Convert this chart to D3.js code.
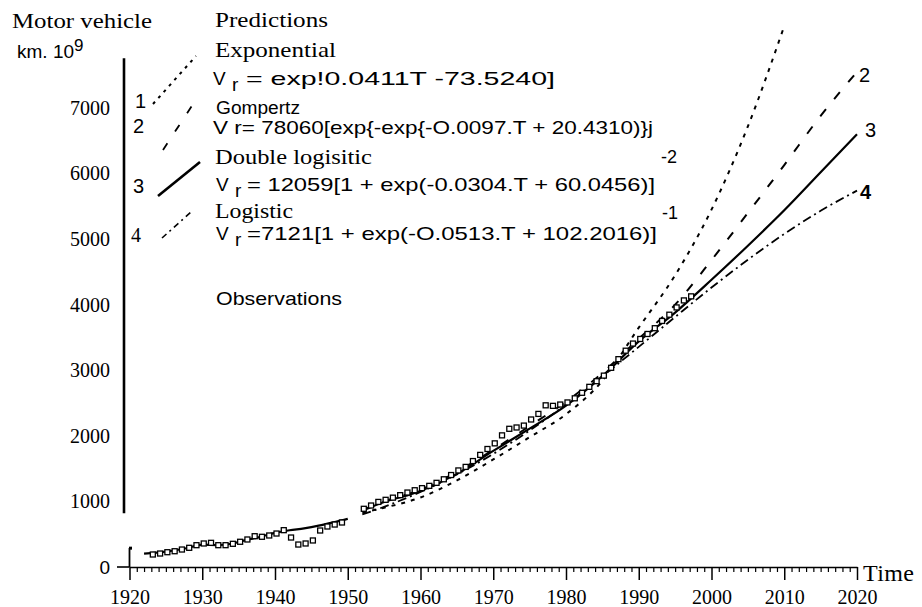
<!DOCTYPE html>
<html>
<head>
<meta charset="utf-8">
<script src="https://cdn.jsdelivr.net/npm/d3@7/dist/d3.min.js"></script>
<style>
  body { margin: 0; background: #fff; }
  svg { display: block; }
  .serif { font-family: "Liberation Serif", "Times New Roman", serif; }
  .sans { font-family: "Liberation Sans", Arial, sans-serif; }
</style>
</head>
<body>
<svg id="chart" width="922" height="607"></svg>
<script>
// Observed traffic, 10^9 vehicle km, before and after the 1950-51 gap
const obsYearsA = [1923,1924,1925,1926,1927,1928,1929,1930,1931,1932,1933,1934,1935,1936,
  1937,1938,1939,1940,1941,1942,1943,1944,1945,1946,1947,1948,1949];
const obsValuesA = [183,198,218,233,259,285,325,351,361,325,325,346,377,412,
  462,453,473,503,554,442,335,351,397,549,610,640,671];
const obsYearsB = [1952,1953,1954,1955,1956,1957,1958,1959,1960,1961,1962,1963,1964,1965,
  1966,1967,1968,1969,1970,1971,1972,1973,1974,1975,1976,1977,1978,1979,1980,1981,
  1982,1983,1984,1985,1986,1987,1988,1989,1990,1991,1992,1993,1994,1995,1996,1997];
const obsValuesB = [880,930,985,1017,1050,1088,1128,1163,1195,1230,1276,1330,1395,1465,
  1519,1608,1702,1792,1878,2000,2100,2120,2149,2242,2327,2458,2450,2470,2502,2565,
  2649,2740,2826,2911,3030,3162,3291,3400,3470,3546,3634,3745,3840,3951,4058,4120];

// Fitted trace through the pre-war years
const earlyYears = [1922,1925,1928,1930,1932,1934,1936,1938,1940,1942,1944,1946,1948,1950];
const earlyValues = [205,235,290,340,335,355,410,460,520,560,590,630,680,735];

// Model predictions
const expYears = [1952,1955,1960,1965,1970,1975,1980,1985,1990,1995,2000,2005,2010];
const exponentialValues = [830,905,1060,1320,1640,1980,2330,2840,3650,4450,5450,6720,8250];
const fitYears = [1952,1955,1960,1965,1970,1975,1980,1985,1990,1995,2000,2005,2010,2015,2020];
const gompertzValues = [870,1000,1180,1450,1790,2150,2520,2960,3480,4000,4680,5400,6130,6880,7550];
const doubleLogisticValues = [860,990,1160,1420,1770,2110,2460,2910,3440,3880,4380,4900,5440,6020,6600];
const logisticValues = [802,918,1144,1412,1725,2082,2478,2908,3357,3813,4262,4686,5079,5432,5740];

// Axis ticks
const decadeTicks = [1920,1930,1940,1950,1960,1970,1980,1990,2000,2010,2020];
const yearTicks = d3.range(1920, 2021).filter(d => d % 10 !== 0);
const yTicks = [0,1000,2000,3000,4000,5000,6000,7000];

const svg = d3.select('#chart');
const x = d3.scaleLinear().domain([1920, 2020]).range([129.5, 857]);
const y = d3.scaleLinear().domain([0, 7000]).range([567, 108]);

// ---- x axis ----
const gx = svg.append('g').attr('transform', `translate(0,${y(0)})`);
gx.call(d3.axisBottom(x).tickValues(decadeTicks).tickSize(13).tickSizeOuter(0)
  .tickPadding(10).tickFormat(d3.format('d')));
gx.select('.domain').attr('stroke-width', 1.6);
gx.selectAll('.tick line').attr('stroke-width', 1.5);
gx.selectAll('.tick text').attr('class', 'serif').attr('font-size', 20).attr('fill', '#000');

const gxm = svg.append('g').attr('transform', `translate(0,${y(0)})`);
gxm.call(d3.axisBottom(x).tickValues(yearTicks).tickSize(5).tickFormat(''));
gxm.select('.domain').remove();
gxm.selectAll('.tick line').attr('stroke-width', 1.2);

svg.append('text').attr('class', 'serif').attr('x', x(2020) + 6).attr('y', y(0) + 14)
  .attr('font-size', 24).attr('letter-spacing', 0.4).text('Time');

// ---- y axis ----
const gy = svg.append('g').attr('transform', 'translate(124,0)');
gy.call(d3.axisLeft(y).tickValues(yTicks).tickSize(0).tickPadding(14).tickFormat(d3.format('d')));
gy.select('.domain').remove();
gy.selectAll('.tick text').attr('class', 'serif').attr('font-size', 20).attr('fill', '#000');
gy.selectAll('.tick').filter(d => d === 0).select('text').attr('class', 'sans').attr('font-size', 19);
gy.append('line').attr('x1', 0).attr('x2', 0).attr('y1', y(7760)).attr('y2', y(820))
  .attr('stroke', '#000').attr('stroke-width', 2.6);
// broken foot of the axis near zero
svg.append('line').attr('x1', x(1920)).attr('x2', x(1920)).attr('y1', y(0)).attr('y2', y(290))
  .attr('stroke', '#000').attr('stroke-width', 1.8);
svg.append('rect').attr('x', x(1920) - 0.5).attr('y', y(310)).attr('width', 3).attr('height', 3).attr('fill', '#000');
svg.append('line').attr('x1', 117).attr('x2', x(1920)).attr('y1', y(0)).attr('y2', y(0))
  .attr('stroke', '#000').attr('stroke-width', 1.6);

// ---- titles ----
svg.append('text').attr('class', 'serif').attr('x', 12).attr('y', 28).attr('font-size', 21)
  .attr('textLength', 140).attr('lengthAdjust', 'spacingAndGlyphs').text('Motor vehicle');
const km = svg.append('text').attr('class', 'sans').attr('x', 17).attr('y', 58).attr('font-size', 19);
km.append('tspan').text('km.  10');
km.append('tspan').attr('dy', -7).attr('font-size', 17).text('9');

// ---- curves ----
const line = d3.line().x(d => x(d[0])).y(d => y(d[1])).curve(d3.curveMonotoneX);
const zip = (a, b) => a.map((v, i) => [v, b[i]]);

const curves = svg.append('g').attr('fill', 'none').attr('stroke', '#000');
curves.append('path').attr('d', line(zip(earlyYears, earlyValues))).attr('stroke-width', 2.2);
curves.append('path').attr('d', line(zip(fitYears, logisticValues)))
  .attr('stroke-width', 1.8).attr('stroke-dasharray', '9,4,2,4');
curves.append('path').attr('d', line(zip(fitYears, gompertzValues)))
  .attr('stroke-width', 2).attr('stroke-dasharray', '9,13');
curves.append('path').attr('d', line(zip(fitYears, doubleLogisticValues))).attr('stroke-width', 2.2);
curves.append('path').attr('d', line(zip(expYears, exponentialValues)))
  .attr('stroke-width', 2).attr('stroke-dasharray', '4,6');

// ---- observations ----
const obs = zip(obsYearsA, obsValuesA).concat(zip(obsYearsB, obsValuesB));
svg.append('g').selectAll('rect').data(obs).join('rect')
  .attr('x', d => x(d[0]) - 1).attr('y', d => y(d[1]) - 3)
  .attr('width', 5).attr('height', 5)
  .attr('fill', '#fff').attr('stroke', '#000').attr('stroke-width', 1.3);

// ---- curve end labels ----
const endLabel = (yr, v, txt, dx, dy, weight) => svg.append('text').attr('class', 'sans')
  .attr('x', x(yr) + dx).attr('y', y(v) + dy).attr('font-size', 20)
  .attr('font-weight', weight || 'normal').text(txt);
endLabel(2020, gompertzValues[gompertzValues.length - 1], '2', 2, 10);
endLabel(2020, doubleLogisticValues[doubleLogisticValues.length - 1], '3', 8, 3);
endLabel(2020, logisticValues[logisticValues.length - 1], '4', 3, 8, 'bold');

// ---- legend ----
const lg = svg.append('g');
const stretched = (cls, tx, ty, s, size, len) => lg.append('text').attr('class', cls)
  .attr('x', tx).attr('y', ty).attr('font-size', size)
  .attr('textLength', len).attr('lengthAdjust', 'spacingAndGlyphs').text(s);
const vr = (tx, ty) => {
  lg.append('text').attr('class', 'sans').attr('x', tx).attr('y', ty).attr('font-size', 19).text('V');
  lg.append('text').attr('class', 'sans').attr('x', tx + 19).attr('y', ty + 6).attr('font-size', 19).text('r');
};
const plain = (cls, tx, ty, s, size) => lg.append('text').attr('class', cls)
  .attr('x', tx).attr('y', ty).attr('font-size', size).text(s);

stretched('serif', 215, 27, 'Predictions', 21, 113);
stretched('serif', 215, 57, 'Exponential', 21, 121);
vr(213, 85);
stretched('sans', 246, 85, '= exp!0.0411T -73.5240]', 19, 309);
stretched('sans', 216, 114, 'Gompertz', 18, 84);
stretched('sans', 213, 134, 'V r= 78060[exp{-exp{-O.0097.T + 20.4310)}j', 19, 440);
stretched('serif', 215, 164, 'Double logisitic', 21, 157);
vr(216, 191);
stretched('sans', 247, 191, '= 12059[1  + exp(-0.0304.T + 60.0456)]', 19, 408);
plain('sans', 661, 163, '-2', 18);
stretched('serif', 215, 218, 'Logistic', 21, 78);
vr(216, 240);
stretched('sans', 247, 240, '=7121[1  + exp(-O.0513.T + 102.2016)]', 19, 410);
plain('sans', 662, 219, '-1', 18);
stretched('sans', 216, 305, 'Observations', 19, 126);

// legend keys
plain('sans', 135, 108, '1', 20);
plain('sans', 133, 133, '2', 20);
plain('sans', 133, 193, '3', 20);
plain('serif', 131, 242, '4', 20);
const key = lg.append('g').attr('fill', 'none').attr('stroke', '#000');
key.append('line').attr('x1', 153).attr('y1', 104).attr('x2', 196).attr('y2', 56)
  .attr('stroke-width', 2).attr('stroke-dasharray', '3,5');
key.append('line').attr('x1', 163).attr('y1', 150).attr('x2', 197).attr('y2', 98)
  .attr('stroke-width', 1.8).attr('stroke-dasharray', '8,14');
key.append('line').attr('x1', 158).attr('y1', 196).attr('x2', 200).attr('y2', 162)
  .attr('stroke-width', 2.6);
key.append('line').attr('x1', 162).attr('y1', 238).attr('x2', 191).attr('y2', 212)
  .attr('stroke-width', 1.6).attr('stroke-dasharray', '6,4,2,4');
</script>
</body>
</html>
